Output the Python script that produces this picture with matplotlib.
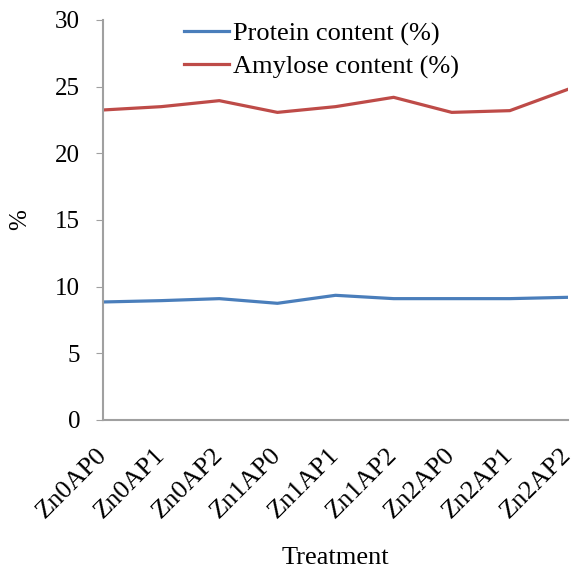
import matplotlib
matplotlib.use("Agg")
import matplotlib.pyplot as plt

treatments = ["Zn0AP0", "Zn0AP1", "Zn0AP2", "Zn1AP0", "Zn1AP1", "Zn1AP2", "Zn2AP0", "Zn2AP1", "Zn2AP2"]
protein = [8.85, 8.95, 9.1, 8.75, 9.35, 9.1, 9.1, 9.1, 9.2]
amylose = [23.25, 23.5, 23.95, 23.07, 23.5, 24.2, 23.07, 23.2, 24.8]
yticks = [0, 5, 10, 15, 20, 25, 30]

plt.rcParams['font.family'] = ['Liberation Serif', 'DejaVu Serif']

fig = plt.figure(figsize=(5.76, 5.71), dpi=100)
ax = fig.add_axes([0.179, 0.2645, 0.807, 0.7005])
x = list(range(len(treatments)))
ax.plot(x, protein, color="#4A7EBB", lw=2.3, label="Protein content (%)")
ax.plot(x, amylose, color="#BE4B48", lw=2.3, label="Amylose content (%)")
ax.set_xlim(0, len(treatments) - 1)
ax.set_ylim(0, 30)
ax.set_yticks(yticks)
ax.set_xticks(x)
ax.set_xticklabels(treatments, rotation=45, ha="right", va="center", rotation_mode="anchor", fontsize=19)
ax.tick_params(axis="y", labelsize=18, length=5, color="#A0A0A0", pad=11.5)
ax.tick_params(axis="x", length=0, pad=23)
for s in ["top", "right"]:
    ax.spines[s].set_visible(False)
for s in ["left", "bottom"]:
    ax.spines[s].set_color("#A0A0A0")
    ax.spines[s].set_linewidth(1.5)
ax.set_xlabel("Treatment", fontsize=19, labelpad=17)
ax.set_ylabel("%", fontsize=18, labelpad=17)
leg = ax.legend(loc="upper left", bbox_to_anchor=(0.123, 1.055), frameon=False, fontsize=19,
                handlelength=1.7, handletextpad=0.15, labelspacing=0.35)
fig.savefig("out.png", dpi=100)
